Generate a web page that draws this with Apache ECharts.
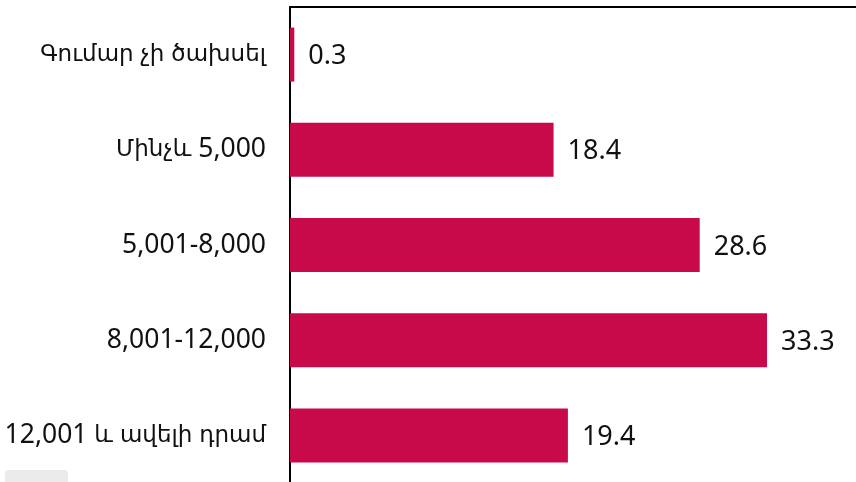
<!DOCTYPE html>
<html>
<head>
<meta charset="utf-8">
<script src="https://cdn.jsdelivr.net/npm/echarts@6/dist/echarts.min.js"></script>
<style>
  html, body { margin: 0; padding: 0; background: #fff; }
  #chart { width: 856px; height: 482px; }
</style>
</head>
<body>
<div id="chart"></div>
<script>
var categories = ['Գումար չի ծախսել', 'Մինչև 5,000', '5,001-8,000', '8,001-12,000', '12,001 և ավելի դրամ'];
var values = [0.3, 18.4, 28.6, 33.3, 19.4];

var chart = echarts.init(document.getElementById('chart'));
var font = '"Noto Sans", "DejaVu Sans", sans-serif';

// Armenian runs get a smaller size than digits, to match the narrower Armenian face
function splitLabel(text) {
    return text.split(/([\u0530-\u058F]+)/).filter(function (s) {
        return s.length;
    }).map(function (s) {
        return /[\u0530-\u058F]/.test(s) ? '{a|' + s + '}' : '{n|' + s + '}';
    }).join('');
}

chart.setOption({
    backgroundColor: '#ffffff',
    animation: false,
    grid: {
        left: 290,
        right: -7,
        top: 7,
        bottom: -1,
        outerBoundsMode: 'none',
        containLabel: false
    },
    xAxis: {
        type: 'value',
        position: 'top',
        min: 0,
        max: 40,
        axisLine: { show: true, lineStyle: { color: '#000', width: 2 } },
        axisTick: { show: false },
        axisLabel: { show: false },
        splitLine: { show: false }
    },
    yAxis: {
        type: 'category',
        inverse: true,
        data: categories,
        axisLine: { show: true, lineStyle: { color: '#000', width: 2 } },
        axisTick: { show: false },
        axisLabel: {
            margin: 24,
            color: '#111',
            formatter: splitLabel,
            rich: {
                a: { fontSize: 23, fontFamily: font, color: '#111', lineHeight: 30 },
                n: { fontSize: 26.5, fontFamily: font, color: '#111', lineHeight: 30 }
            }
        }
    },
    series: [{
        type: 'bar',
        data: values,
        barWidth: 54,
        itemStyle: { color: '#c80a4b' },
        label: {
            show: true,
            position: 'right',
            distance: 14,
            offset: [0, 2],
            fontSize: 27,
            color: '#111',
            fontFamily: font
        }
    }],
    graphic: [{
        type: 'rect',
        left: 5,
        top: 470,
        shape: { width: 63, height: 20, r: 4 },
        style: { fill: '#ebebeb' }
    }]
});
</script>
</body>
</html>
